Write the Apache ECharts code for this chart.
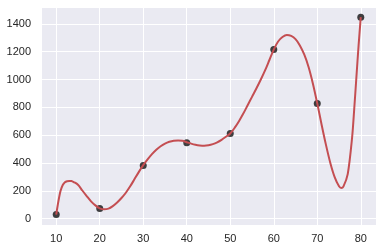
<!DOCTYPE html>
<html>
<head>
<meta charset="utf-8">
<script src="https://cdn.jsdelivr.net/npm/echarts@6/dist/echarts.min.js"></script>
<style>html,body{margin:0;padding:0;background:#fff;}#c{width:383px;height:251px;}</style>
</head>
<body>
<div id="c"></div>
<script>
const pointX = [10, 20, 30, 40, 50, 60, 70, 80];
const pointY = [29, 72, 382, 545, 612, 1215, 828, 1448];
const curveX = [10, 10.5, 11, 11.5, 12, 12.5, 13, 13.5, 14, 15, 16, 17, 18, 19, 20, 21, 22, 23, 24, 25, 26, 27, 28, 29, 30, 31, 32, 33, 34, 35, 36, 37, 38, 39, 40, 41, 42, 43, 44, 45, 46, 47, 48, 49, 50, 51, 52, 53, 54, 55, 56, 57, 58, 59, 60, 61, 62, 63, 64, 65, 66, 67, 68, 69, 70, 71, 72, 73, 74, 75, 75.5, 76, 77, 78, 78.5, 79, 79.5, 80];
const curveY = [29, 125, 200, 242, 262, 269, 271, 270, 263, 243, 202, 162, 124, 95, 74, 67, 72, 90, 116, 148, 186, 232, 284, 336, 384, 425, 463, 495, 520, 539, 552, 560, 562, 559, 549, 539, 531, 526, 524, 527, 535, 548, 566, 588, 612, 652, 700, 755, 815, 875, 935, 998, 1065, 1140, 1215, 1273, 1305, 1320, 1313, 1290, 1245, 1180, 1090, 970, 828, 675, 530, 400, 298, 232, 220, 230, 320, 580, 790, 1020, 1245, 1448];
const xTicks = [10, 20, 30, 40, 50, 60, 70, 80];
const yTicks = [0, 200, 400, 600, 800, 1000, 1200, 1400];

const chart = echarts.init(document.getElementById('c'), null, {renderer: 'canvas'});
const labelStyle = {color: '#262626', fontFamily: 'Liberation Sans', fontSize: 11};
chart.setOption({
  animation: false,
  grid: {left: 41, right: 7, top: 7, bottom: 26, show: true, backgroundColor: '#eaeaf2', borderWidth: 0},
  xAxis: {
    type: 'value', min: 6.5, max: 83.5, splitNumber: 8, minInterval: 10, maxInterval: 10,
    axisLine: {show: false}, axisTick: {show: false},
    splitLine: {lineStyle: {color: '#ffffff', width: 1}},
    axisLabel: Object.assign({margin: 8, showMinLabel: false, showMaxLabel: false,
      formatter: v => xTicks.includes(v) ? String(v) : ''}, labelStyle)
  },
  yAxis: {
    type: 'value', min: -46, max: 1521, splitNumber: 8, minInterval: 200, maxInterval: 200,
    axisLine: {show: false}, axisTick: {show: false},
    splitLine: {lineStyle: {color: '#ffffff', width: 1}},
    axisLabel: Object.assign({margin: 10, showMinLabel: false, showMaxLabel: false,
      formatter: v => yTicks.includes(v) ? String(v) : ''}, labelStyle)
  },
  series: [
    {
      type: 'scatter', data: pointX.map((x, i) => [x, pointY[i]]),
      symbolSize: 7, itemStyle: {color: '#111111'}, z: 2
    },
    {
      type: 'line', data: curveX.map((x, i) => [x, curveY[i]]),
      showSymbol: false, smooth: 0.3,
      lineStyle: {color: '#c44e52', width: 2}, z: 3
    }
  ]
});
</script>
</body>
</html>
